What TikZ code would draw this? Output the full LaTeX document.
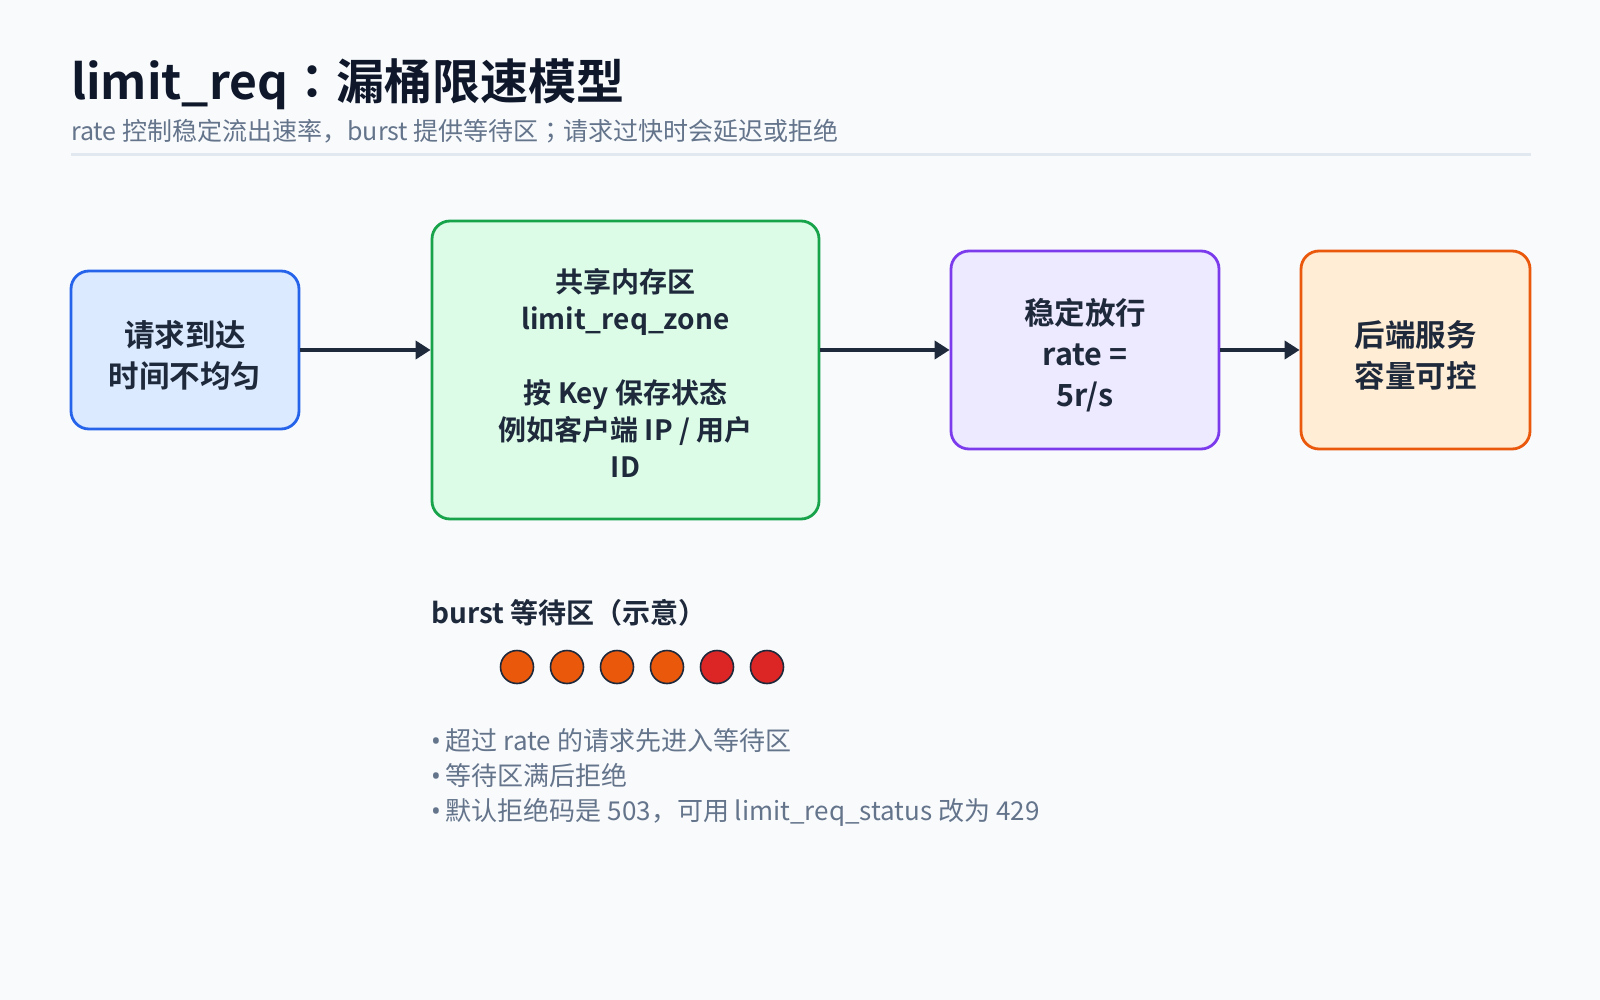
\documentclass[tikz,border=0pt]{standalone}
\usepackage{fontspec}
\setmainfont{Noto Sans CJK SC}[BoldFont={Noto Sans CJK SC Bold}]
\newfontfamily\jpfont{Noto Sans CJK JP}[BoldFont={Noto Sans CJK JP Bold}]
\newfontfamily\latinfont{Noto Sans}
\usetikzlibrary{arrows.meta}
\definecolor{bg}{HTML}{F8FAFC}
\definecolor{ink}{HTML}{1E293B}
\definecolor{titleink}{HTML}{0F172A}
\definecolor{muted}{HTML}{64748B}
\definecolor{rule}{HTML}{E2E8F0}
\definecolor{bluefill}{HTML}{DBEAFE}\definecolor{bluedraw}{HTML}{2563EB}
\definecolor{greenfill}{HTML}{DCFCE7}\definecolor{greendraw}{HTML}{16A34A}
\definecolor{purplefill}{HTML}{EDE9FE}\definecolor{purpledraw}{HTML}{7C3AED}
\definecolor{orangefill}{HTML}{FFEDD5}\definecolor{orangedraw}{HTML}{EA580C}
\definecolor{dotorange}{HTML}{EA580C}\definecolor{dotred}{HTML}{DC2626}
\newcommand{\topstrut}[1]{\rule{0pt}{#1}}
\newcommand{\bul}{{\latinfont •}\hspace{5pt}}
\tikzset{
  box/.style={draw, rounded corners=18pt, line width=2.8pt, align=center, text=ink,
    inner sep=0pt, font=\bfseries\fontsize{30.5}{41}\selectfont},
  flow/.style={draw=ink, line width=4.5pt, -{Triangle[length=15pt,width=18pt]}},
  dot/.style={circle, draw=ink, line width=1.6pt, minimum size=33pt, inner sep=0pt},
  bullet/.style={anchor=base west, text=muted, inner sep=0pt, font=\fontsize{26}{35}\selectfont},
}
\begin{document}
\begin{tikzpicture}[x=1pt,y=-1pt]
\fill[bg] (0,0) rectangle (1600,1000);
\useasboundingbox (0,0) rectangle (1600,1000);

\node[anchor=base west, inner sep=0pt, text=titleink, font=\bfseries\fontsize{48}{58}\selectfont] (title) at (71,100) {limit\_req{\jpfont ：}漏桶限速模型};
\node[anchor=base west, inner sep=0pt, text=muted, font=\fontsize{25}{30}\selectfont] (subtitle) at (71,141) {rate 控制稳定流出速率，burst 提供等待区{\jpfont ；}请求过快时会延迟或拒绝};
\draw[rule, line width=3pt] (71,155) -- (1531,155);

\node[box, fill=bluefill, draw=bluedraw, minimum width=228pt, minimum height=158pt] (req) at (185,350) {\topstrut{37pt}请求到达\\时间不均匀};
\node[box, fill=greenfill, draw=greendraw, minimum width=387pt, minimum height=298pt, font=\bfseries\fontsize{28}{37}\selectfont] (zone) at (625.5,370) {\topstrut{30pt}共享内存区\\limit\_req\_zone\\[37pt]按 Key 保存状态\\例如客户端 IP / 用户\\ID};
\node[box, fill=purplefill, draw=purpledraw, minimum width=268pt, minimum height=198pt] (rate) at (1085,350) {\topstrut{37pt}稳定放行\\rate =\\5r/s};
\node[box, fill=orangefill, draw=orangedraw, minimum width=229pt, minimum height=198pt] (backend) at (1415.5,350) {\topstrut{37pt}后端服务\\容量可控};

\draw[flow] (req.east) -- (req.east -| zone.west);
\draw[flow] (zone.east |- rate.west) -- (rate.west);
\draw[flow] (rate.east) -- (backend.west);

\node[anchor=base west, inner sep=0pt, text=ink, font=\bfseries\fontsize{28}{32}\selectfont] (bursthead) at (431,623) {burst 等待区（示意）};
\node[dot, fill=dotorange] (d1) at (517,667) {};
\node[dot, fill=dotorange] (d2) at (567,667) {};
\node[dot, fill=dotorange] (d3) at (617,667) {};
\node[dot, fill=dotorange] (d4) at (667,667) {};
\node[dot, fill=dotred] (d5) at (717,667) {};
\node[dot, fill=dotred] (d6) at (767,667) {};

\node[bullet] (b1) at (431,750) {\bul 超过 rate 的请求先进入等待区};
\node[bullet] (b2) at (431,785) {\bul 等待区满后拒绝};
\node[bullet] (b3) at (431,820) {\bul 默认拒绝码是 503，可用 limit\_req\_status 改为 429};
\end{tikzpicture}
\end{document}
